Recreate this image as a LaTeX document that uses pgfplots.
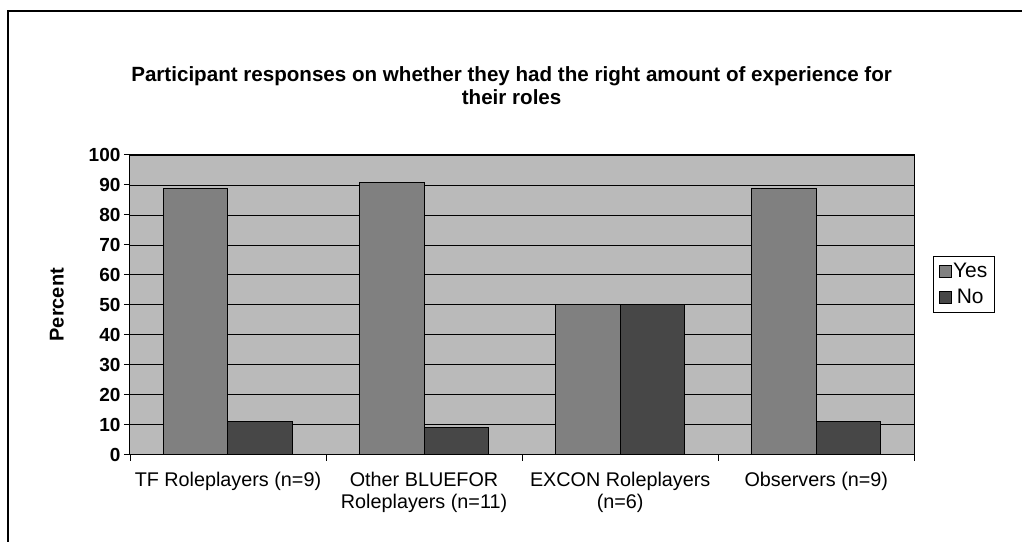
\documentclass[border=0pt]{standalone}
\usepackage{pgfplots}
\pgfplotsset{compat=1.18}
\usepackage{fontspec}
\setmainfont{Liberation Sans}
\begin{document}
\begin{tikzpicture}[x=1pt,y=1pt]
\path (0,0) rectangle (1023,542);
\draw[line width=1.5pt] (8,0) -- (8,531) -- (1023,531);
\node[font=\fontsize{20.6}{23}\selectfont\bfseries, align=center] at (512,456) {Participant responses on whether they had the right amount of experience for\\their roles};
\begin{axis}[
  at={(130pt,87pt)}, anchor=south west,
  scale only axis, width=785pt, height=300pt,
  ybar=0pt, bar width=0.33,
  xmin=-0.5, xmax=3.5, ymin=0, ymax=100,
  ytick={0,10,...,100},
  /pgf/number format/assume math mode=true,
  xtick={-0.5,0.5,1.5,2.5,3.5},
  x tick label as interval,
  xticklabels={TF Roleplayers (n=9),Other BLUEFOR\\Roleplayers (n=11),EXCON Roleplayers\\(n=6),Observers (n=9)},
  xticklabel style={align=center, font=\fontsize{19.8}{22}\selectfont, yshift=-8pt},
  yticklabel style={font=\fontsize{19}{22}\selectfont\bfseries},
  tick align=outside, tick pos=left, major tick length=6pt,
  tick style={black, line width=0.8pt},
  ymajorgrids, grid style={black, line width=0.6pt},
  axis background/.style={fill=black!27},
  axis line style={black, line width=1pt},
  ylabel={Percent},
  ylabel style={font=\fontsize{20}{23}\selectfont\bfseries, at={(axis description cs:-0.093,0.5)}, anchor=center, rotate=0},
  legend style={at={(axis description cs:1.024,0.663)}, anchor=north west, draw=black, line width=0.8pt, font=\fontsize{21}{24}\selectfont, inner sep=5pt, row sep=6pt},
  legend image code/.code={\draw[#1, draw=black, line width=0.5pt] (0pt,-6pt) rectangle (12pt,6pt);},
]
\addplot[fill=black!50, draw=black, line width=1pt] coordinates {(0,88.9) (1,90.9) (2,50) (3,88.9)};
\addplot[fill=black!72, draw=black, line width=1pt] coordinates {(0,11.1) (1,9.1) (2,50) (3,11.1)};
\legend{Yes,No}
\end{axis}
\end{tikzpicture}
\end{document}
